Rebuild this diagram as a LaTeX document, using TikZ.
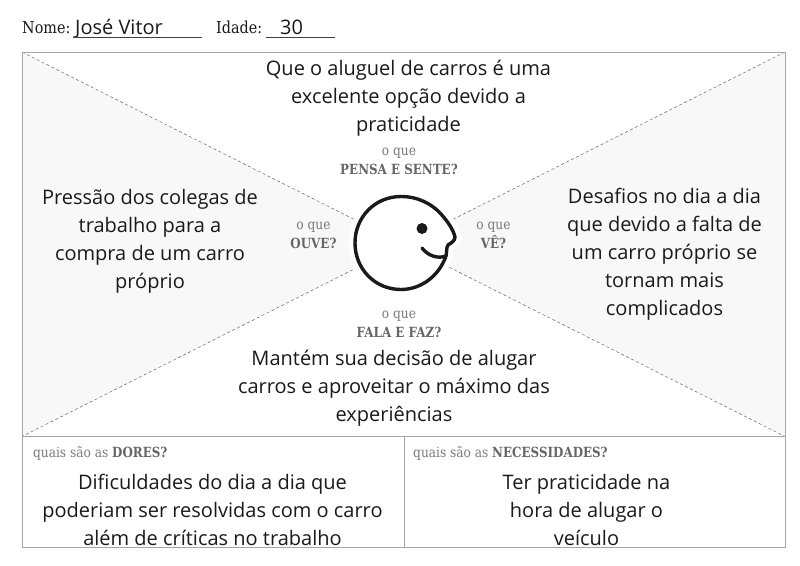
\documentclass[tikz,border=0pt]{standalone}
\usepackage{fontspec}
\setmainfont{Open Sans}
\newfontfamily\lab[FakeStretch=0.87]{DejaVu Serif}
\newfontfamily\labb[FakeStretch=0.85]{DejaVu Serif Bold}
\definecolor{fr}{HTML}{A6A6A6}
\definecolor{shadecol}{HTML}{F8F8F8}
\definecolor{lbl}{HTML}{7A7A7A}
\definecolor{lblb}{HTML}{666666}
\definecolor{ink}{HTML}{1A1A1A}
\tikzset{
  body/.style={align=center,inner sep=0pt,font=\fontsize{20}{28}\selectfont,text=ink},
  prompt/.style={align=center,inner sep=0pt,font=\lab\fontsize{14}{19}\selectfont,text=lbl},
  hdr/.style={inner sep=0pt,font=\lab\fontsize{16.5}{18}\selectfont,text=ink,anchor=base west},
  hand/.style={inner sep=0pt,font=\fontsize{20}{22}\selectfont,text=ink,anchor=base west},
  rule/.style={draw=black!75,line width=0.7pt},
  frameline/.style={draw=fr,line width=0.8pt},
  diag/.style={draw=black!60,line width=0.5pt,dash pattern=on 3pt off 2.5pt},
  headline/.style={draw=ink,line width=3.4pt,line cap=round,line join=round}
}
\newcommand{\strongp}[1]{{\labb\textcolor{lblb}{#1}}}
\begin{document}
\begin{tikzpicture}[x=1pt,y=-1pt]
\useasboundingbox (0,0) rectangle (800,565);
\fill[white] (0,0) rectangle (800,565);
% coordinates
\coordinate (tl) at (22,52);
\coordinate (tr) at (785,52);
\coordinate (ml) at (22,436.5);
\coordinate (mr) at (785,436.5);
\coordinate (bl) at (22,547);
\coordinate (br) at (785,547);
\coordinate (mc) at (404,436.5);
\coordinate (bc) at (404,547);
\coordinate (cc) at (403.5,244.25);
% shaded triangles
\fill[shadecol] (tl) -- (cc) -- (ml) -- cycle;
\fill[shadecol] (tr) -- (cc) -- (mr) -- cycle;
\draw[diag] (tl) -- (cc) -- (mr);
\draw[diag] (tr) -- (cc) -- (ml);
% frame
\draw[frameline] (tl) rectangle (br);
\draw[frameline] (ml) -- (mr);
\draw[frameline] (mc) -- (bc);
% head
\def\headpath{(401,196.5) .. controls (418,196.5) and (432,204) .. (441,214)
  .. controls (448,222) and (453,229) .. (455,237)
  .. controls (455,241) and (451,243) .. (448,245)
  .. controls (446,248) and (447,252) .. (446,256)
  .. controls (439,276) and (421,289.5) .. (401,289.5)
  .. controls (375,289.5) and (355,269) .. (355,243)
  .. controls (355,217) and (375,196.5) .. (401,196.5) -- cycle}
\fill[white,draw=white,line width=13pt,line join=round] \headpath;
\draw[headline,fill=white] \headpath;
\fill[ink] (422,228.5) circle (5.5);
\draw[headline] (422,248) .. controls (428,256) and (438,259) .. (446,256);
% header
\node[hdr] (nome) at (22,33) {Nome:};
\node[hand] (nomev) at (75,34) {José Vitor};
\coordinate (n1) at (73,37.5); \coordinate (n2) at (202,37.5);
\draw[rule] (n1) -- (n2);
\node[hdr] (idade) at (216,33) {Idade:};
\node[hand] (idadev) at (280,34) {30};
\coordinate (i1) at (266,37.5); \coordinate (i2) at (335,37.5);
\draw[rule] (i1) -- (i2);
% main texts
\node[body] (top) at (408.5,98.5) {Que o aluguel de carros é uma\\excelente opção devido a\\praticidade};
\node[body] (left) at (150,241) {Pressão dos colegas de\\trabalho para a\\compra de um carro\\próprio};
\node[body] (right) at (664.5,254.5) {Desafios no dia a dia\\que devido a falta de\\um carro próprio se\\tornam mais\\complicados};
\node[body] (bottom) at (394,388) {Mantém sua decisão de alugar\\carros e aproveitar o máximo das\\experiências};
\node[body] (dores) at (212.5,509.5) {Dificuldades do dia a dia que\\poderiam ser resolvidas com o carro\\além de críticas no trabalho};
\node[body] (nec) at (586.5,509.5) {Ter praticidade na\\hora de alugar o\\veículo};
% prompts
\node[prompt] (ppensa) at (399,161) {o que\\\strongp{PENSA E SENTE?}};
\node[prompt] (pouve) at (313.5,235) {o que\\\strongp{OUVE?}};
\node[prompt] (pve) at (493.5,235) {o que\\\strongp{VÊ?}};
\node[prompt] (pfala) at (399,324) {o que\\\strongp{FALA E FAZ?}};
\node[prompt,anchor=base west] (pdores) at (33,457) {quais são as \strongp{DORES?}};
\node[prompt,anchor=base west] (pnec) at (413,457) {quais são as \strongp{NECESSIDADES?}};
\end{tikzpicture}
\end{document}
